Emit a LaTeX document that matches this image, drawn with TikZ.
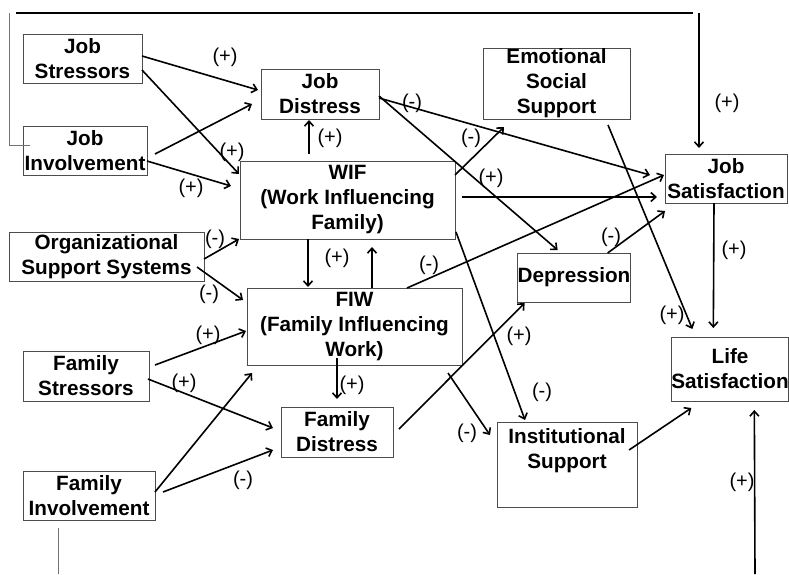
\documentclass[tikz,border=0pt]{standalone}
\usepackage{fontspec}
\setmainfont{Liberation Sans}
\usetikzlibrary{arrows.meta}
\begin{document}
\begin{tikzpicture}[x=1pt,y=-1pt,
  box/.style={draw=black!70,line width=1pt,inner sep=0pt,outer sep=0pt,align=center,
    font=\bfseries\fontsize{20.7}{25}\selectfont},
  sgn/.style={inner sep=0pt,font=\fontsize{20}{24}\selectfont},
  arr/.style={line width=1.6pt,-{Straight Barb[length=5pt,width=9pt]}},
  plain/.style={line width=1.5pt},
  gline/.style={line width=1pt,draw=black!55}]
\useasboundingbox (0,0) rectangle (789,574);
% boxes
\node[box,minimum width=119pt,minimum height=49pt] (js) at (82.5,58.5) {Job\\Stressors};
\node[box,minimum width=124pt,minimum height=49pt] (ji) at (85,150.5) {Job\\Involvement};
\node[box,minimum width=195pt,minimum height=49pt] (oss) at (106.5,256.5) {Organizational\\Support Systems};
\node[box,minimum width=126pt,minimum height=50pt] (fs) at (86,376) {Family\\Stressors};
\node[box,minimum width=132pt,minimum height=49pt] (fi) at (89,495.5) {Family\\Involvement};
\node[box,minimum width=118pt,minimum height=50pt] (jd) at (320,94) {Job\\Distress};
\node[box,minimum width=215pt,minimum height=78pt] (wif) at (347.5,200) {WIF\\(Work Influencing\\Family)};
\node[box,minimum width=215pt,minimum height=77pt] (fiw) at (354.5,326.5) {FIW\\(Family Influencing\\Work)};
\node[box,minimum width=112pt,minimum height=50pt] (fd) at (337,432) {Family\\Distress};
\node[box,minimum width=147pt,minimum height=71pt] (ess) at (556.5,83.5) {Emotional\\Social\\Support};
\node[box,minimum width=112pt,minimum height=49pt] (dep) at (574,277.5) {Depression};
\node[box,minimum width=140pt,minimum height=85pt] (ins) at (567,464.5) {Institutional\\Support\\\strut};
\node[box,minimum width=122pt,minimum height=49pt] (jsat) at (726,178.5) {Job\\Satisfaction};
\node[box,minimum width=116pt,minimum height=64pt] (lsat) at (730,369) {Life\\Satisfaction};
% free ends of the loop lines
\coordinate (tl) at (9,13);
\coordinate (tls) at (16,13);
\coordinate (tr) at (693,13);
\coordinate (trs) at (699,13);
\coordinate (bl) at (58,574);
\coordinate (br) at (755,574);
% connectors
\draw[arr] ([shift={(119,22)}]js.north west) -- ([shift={(-3,21)}]jd.north west);
\draw[arr] ([shift={(119,36)}]js.north west) -- ([shift={(-1,13)}]wif.north west);
\draw[arr] ([shift={(132,28)}]ji.north west) -- ([shift={(-9,35)}]jd.north west);
\draw[arr] ([shift={(124,35)}]ji.north west) -- ([shift={(-9,25)}]wif.north west);
\draw[gline] (tl) -- (tl |- 0,145) -- ([shift={(7,19)}]ji.north west);
\draw[plain] (tls) -- (tr);
\draw[arr] (trs) -- ([shift={(34,-6)}]jsat.north west);
\draw[arr] ([shift={(69,-7)}]wif.north west) -- ([shift={(48,51)}]jd.north west);
\draw[arr] ([shift={(118,29)}]jd.north west) -- ([shift={(-15,21)}]jsat.north west);
\draw[arr] ([shift={(118,27)}]jd.north west) -- ([shift={(40,-3)}]dep.north west);
\draw[arr] ([shift={(215,14)}]wif.north west) -- ([shift={(21,79)}]ess.north west);
\draw[arr] ([shift={(222,36)}]wif.north west) -- ([shift={(-8,43)}]jsat.north west);
\draw[arr] ([shift={(125,77)}]ess.north west) -- ([shift={(21,-8)}]lsat.north west);
\draw[arr] ([shift={(160,0)}]fiw.north west) -- ([shift={(-1,21)}]jsat.north west);
\draw[arr] ([shift={(90,0)}]dep.north west) -- ([shift={(0,57)}]jsat.north west);
\draw[arr] ([shift={(49,49)}]jsat.north west) -- ([shift={(42,-9)}]lsat.north west);
\draw[arr] ([shift={(68,78)}]wif.north west) -- ([shift={(61,-1)}]fiw.north west);
\draw[arr] ([shift={(125,0)}]fiw.north west) -- ([shift={(132,86)}]wif.north west);
\draw[arr] ([shift={(195,27)}]oss.north west) -- ([shift={(-1,78)}]wif.north west);
\draw[arr] ([shift={(188,35)}]oss.north west) -- ([shift={(-4,12)}]fiw.north west);
\draw[arr] ([shift={(132,14)}]fs.north west) -- ([shift={(-1,43)}]fiw.north west);
\draw[arr] ([shift={(125,28)}]fs.north west) -- ([shift={(-8,21)}]fd.north west);
\draw[arr] ([shift={(132,21)}]fi.north west) -- ([shift={(5,85)}]fiw.north west);
\draw[arr] ([shift={(140,21)}]fi.north west) -- ([shift={(-8,43)}]fd.north west);
\draw[arr] ([shift={(90,70)}]fiw.north west) -- ([shift={(56,-8)}]fd.north west);
\draw[arr] ([shift={(216,71)}]wif.north west) -- ([shift={(28,-2)}]ins.north west);
\draw[arr] ([shift={(201,85)}]fiw.north west) -- ([shift={(-7,13)}]ins.north west);
\draw[arr] ([shift={(118,22)}]fd.north west) -- ([shift={(7,50)}]dep.north west);
\draw[arr] ([shift={(132,28)}]ins.north west) -- ([shift={(20,71)}]lsat.north west);
\draw[gline] ([shift={(35,57)}]fi.north west) -- (bl);
\draw[arr] (br) -- ([shift={(83,73)}]lsat.north west);
% signs
\node[sgn] (s1) at (225,57) {(+)};
\node[sgn] (s2) at (232,152) {(+)};
\node[sgn] (s3) at (191,188) {(+)};
\node[sgn] (s4) at (330,138) {(+)};
\node[sgn] (s5) at (412,103) {(-)};
\node[sgn] (s6) at (471,138) {(-)};
\node[sgn] (s7) at (491,178) {(+)};
\node[sgn] (s8) at (727,103) {(+)};
\node[sgn] (s9) at (734,250) {(+)};
\node[sgn] (s10) at (611,237) {(-)};
\node[sgn] (s11) at (215,239) {(-)};
\node[sgn] (s12) at (209,294) {(-)};
\node[sgn] (s13) at (208,335) {(+)};
\node[sgn] (s14) at (184,383) {(+)};
\node[sgn] (s15) at (337,258) {(+)};
\node[sgn] (s16) at (429,265) {(-)};
\node[sgn] (s17) at (352,385) {(+)};
\node[sgn] (s18) at (243,480) {(-)};
\node[sgn] (s19) at (467,433) {(-)};
\node[sgn] (s20) at (542,392) {(-)};
\node[sgn] (s21) at (519,336) {(+)};
\node[sgn] (s22) at (672,315) {(+)};
\node[sgn] (s23) at (742,482) {(+)};
\end{tikzpicture}
\end{document}
